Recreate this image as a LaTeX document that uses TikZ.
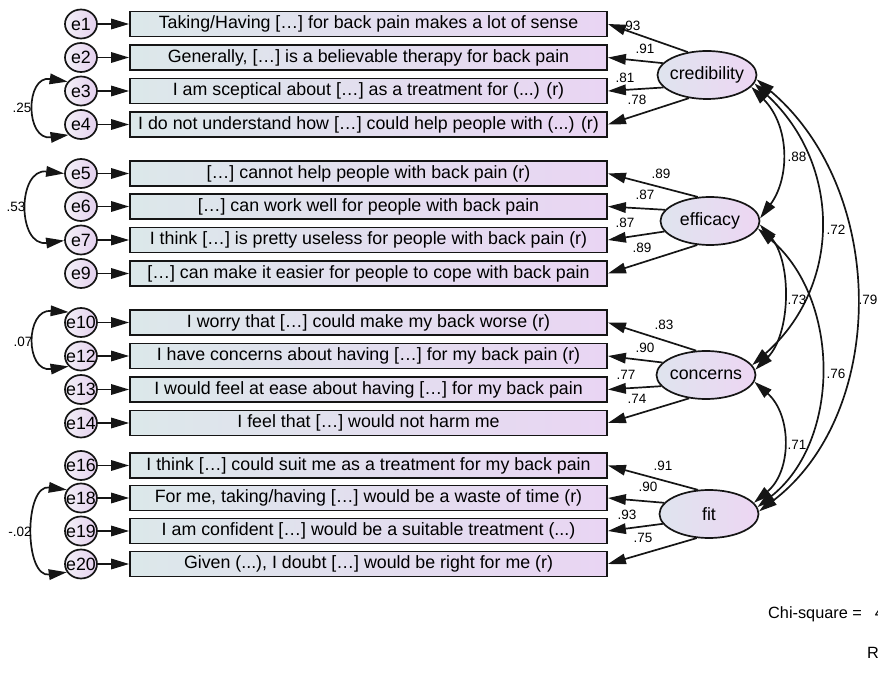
\documentclass[tikz,border=0pt]{standalone}
\usepackage{fontspec}
\setmainfont{Liberation Sans}
\usetikzlibrary{arrows.meta,shapes.geometric}

\definecolor{boxleft}{HTML}{DCE8EA}
\definecolor{boxright}{HTML}{E9D5F3}
\definecolor{errleft}{HTML}{F3F0F7}
\definecolor{errright}{HTML}{E4D0EE}
\definecolor{latleft}{HTML}{DFE4EE}
\definecolor{latright}{HTML}{EDD6F3}
\definecolor{ink}{HTML}{151515}

\tikzset{
  amos/.tip={Triangle[length=18pt,width=10.5pt]},
  itembox/.style={rectangle, draw=ink, line width=1.8pt, minimum width=477pt,
    minimum height=25pt, inner sep=0pt, left color=boxleft, right color=boxright,
    font=\fontsize{17.8}{20}\selectfont},
  errc/.style={ellipse, draw=ink, line width=1.7pt, minimum width=32pt,
    minimum height=29pt, inner sep=0pt, left color=errleft, right color=errright,
    font=\fontsize{17.8}{20}\selectfont},
  latent/.style={ellipse, draw=ink, line width=1.7pt, minimum width=99pt,
    minimum height=48pt, inner sep=0pt, left color=latleft, right color=latright,
    font=\fontsize{17.8}{20}\selectfont},
  load/.style={draw=ink, line width=1.7pt, -{amos}},
  cov/.style={draw=ink, line width=1.7pt, {amos}-{amos}},
  coef/.style={font=\fontsize{13.5}{15}\selectfont, inner sep=0pt},
  fitnote/.style={font=\fontsize{16.3}{18}\selectfont, inner sep=0pt},
}

\begin{document}
\begin{tikzpicture}[x=1pt,y=-1pt]
\useasboundingbox (0,0) rectangle (878,684);
\clip (0,0) rectangle (878,684);

% ---- observed items ----
\node[itembox] (b1)  at (368.5,24)    {Taking/Having […] for back pain makes a lot of sense};
\node[itembox] (b2)  at (368.5,57.5)  {Generally, […] is a believable therapy for back pain};
\node[itembox] (b3)  at (368.5,91)    {I am sceptical about […] as a treatment for (...) (r)};
\node[itembox] (b4)  at (368.5,124.5) {I do not understand how […] could help people with (...) (r)};
\node[itembox] (b5)  at (368.5,173.5) {[…] cannot help people with back pain (r)};
\node[itembox] (b6)  at (368.5,206.5) {[…] can work well for people with back pain};
\node[itembox] (b7)  at (368.5,240)   {I think […] is pretty useless for people with back pain (r)};
\node[itembox] (b9)  at (368.5,273.5) {[…] can make it easier for people to cope with back pain};
\node[itembox] (b10) at (368.5,322.5) {I worry that […] could make my back worse (r)};
\node[itembox] (b12) at (368.5,356)   {I have concerns about having […] for my back pain (r)};
\node[itembox] (b13) at (368.5,389.5) {I would feel at ease about having […] for my back pain};
\node[itembox] (b14) at (368.5,423)   {I feel that […] would not harm me};
\node[itembox] (b16) at (368.5,465.5) {I think […] could suit me as a treatment for my back pain};
\node[itembox] (b18) at (368.5,498)   {For me, taking/having […] would be a waste of time (r)};
\node[itembox] (b19) at (368.5,531)   {I am confident […] would be a suitable treatment (...)};
\node[itembox] (b20) at (368.5,564)   {Given (...), I doubt […] would be right for me (r)};

% ---- error terms ----
\foreach \k/\yy in {1/24,2/57.5,3/91,4/124.5,5/173.5,6/206.5,7/240,9/273.5,
                    10/322.5,12/356,13/389.5,14/423,16/465.5,18/498,19/531,20/564}{
  \node[errc] (e\k) at (81,\yy) {\makebox[0pt]{e\k}};
  \draw[load] (e\k.east) -- (b\k.west);
}

% ---- latent factors ----
\node[latent] (cred) at (707,75)  {\makebox[0pt]{credibility}};
\node[latent] (eff)  at (710,221) {\makebox[0pt]{efficacy}};
\node[latent] (conc) at (706,375) {\makebox[0pt]{concerns}};
\node[latent] (fit)  at (709,514) {\makebox[0pt]{fit}};

% ---- loadings ----
\draw[load] (cred.130) -- (b1.east);
\draw[load] (cred.165) -- (b2.east);
\draw[load] (cred.196) -- (b3.east);
\draw[load] (cred.232) -- (b4.east);
\draw[load] (eff.117) -- (b5.east);
\draw[load] (eff.166) -- (b6.east);
\draw[load] (eff.193) -- (b7.east);
\draw[load] (eff.242) -- (b9.east);
\draw[load] (conc.112) -- (b10.east);
\draw[load] (conc.164) -- (b12.east);
\draw[load] (conc.194) -- (b13.east);
\draw[load] (conc.234) -- (b14.east);
\draw[load] (fit.115) -- (b16.east);
\draw[load] (fit.166) -- (b18.east);
\draw[load] (fit.192) -- (b19.east);
\draw[load] (fit.243) -- (b20.east);

\node[coef] (l1)  at (631,26)  {.93};
\node[coef] (l2)  at (645,49)  {.91};
\node[coef] (l3)  at (625,78)  {.81};
\node[coef] (l4)  at (637,100) {.78};
\node[coef] (l5)  at (661,174) {.89};
\node[coef] (l6)  at (645,195) {.87};
\node[coef] (l7)  at (625,223) {.87};
\node[coef] (l9)  at (642,248) {.89};
\node[coef] (l10) at (664,325) {.83};
\node[coef] (l12) at (645,348) {.90};
\node[coef] (l13) at (626,375) {.77};
\node[coef] (l14) at (637,399) {.74};
\node[coef] (l16) at (663,466) {.91};
\node[coef] (l18) at (648,487) {.90};
\node[coef] (l19) at (627,515) {.93};
\node[coef] (l20) at (643,538) {.75};

% ---- correlated errors ----
\draw[cov] (e3.145) .. controls (25,75) and (25,141) .. (e4.220);
\draw[cov] (e5.180) .. controls (17,168) and (17,247) .. (e7.182);
\draw[cov] (e10.140) .. controls (25,309) and (25,373) .. (e12.220);
\draw[cov] (e18.150) .. controls (24,484) and (24,578) .. (e20.210);
\node[coef] (c34)   at (22,108) {.25};
\node[coef] (c57)   at (16,207) {.53};
\node[coef] (c1012) at (23,342) {.07};
\node[coef] (c1820) at (20,532) {-.02};

% ---- factor covariances ----
\draw[cov] (cred.-15) .. controls (790,126) and (790,178) .. (eff.3);
\draw[cov] (cred.-10) .. controls (842,165) and (842,286) .. (conc.12);
\draw[cov] (cred.-5)  .. controls (888,190) and (888,413) .. (fit.3);
\draw[cov] (eff.-4)   .. controls (792,262) and (791,334) .. (conc.6);
\draw[cov] (eff.-9)   .. controls (841,300) and (841,441) .. (fit.8);
\draw[cov] (conc.-8)  .. controls (792,415) and (792,471) .. (fit.14);
\node[coef] (r1) at (797,157) {.88};
\node[coef] (r2) at (836,230) {.72};
\node[coef] (r3) at (868,300) {.79};
\node[coef] (r4) at (797,300) {.73};
\node[coef] (r5) at (836,374) {.76};
\node[coef] (r6) at (797,445) {.71};

% ---- fit summary ----
\node[fitnote, anchor=base west] (chisq) at (768,618) {Chi-square =\hspace{13pt}4};
\node[fitnote, anchor=base west] (rmsea) at (867,658) {R};
\end{tikzpicture}
\end{document}
